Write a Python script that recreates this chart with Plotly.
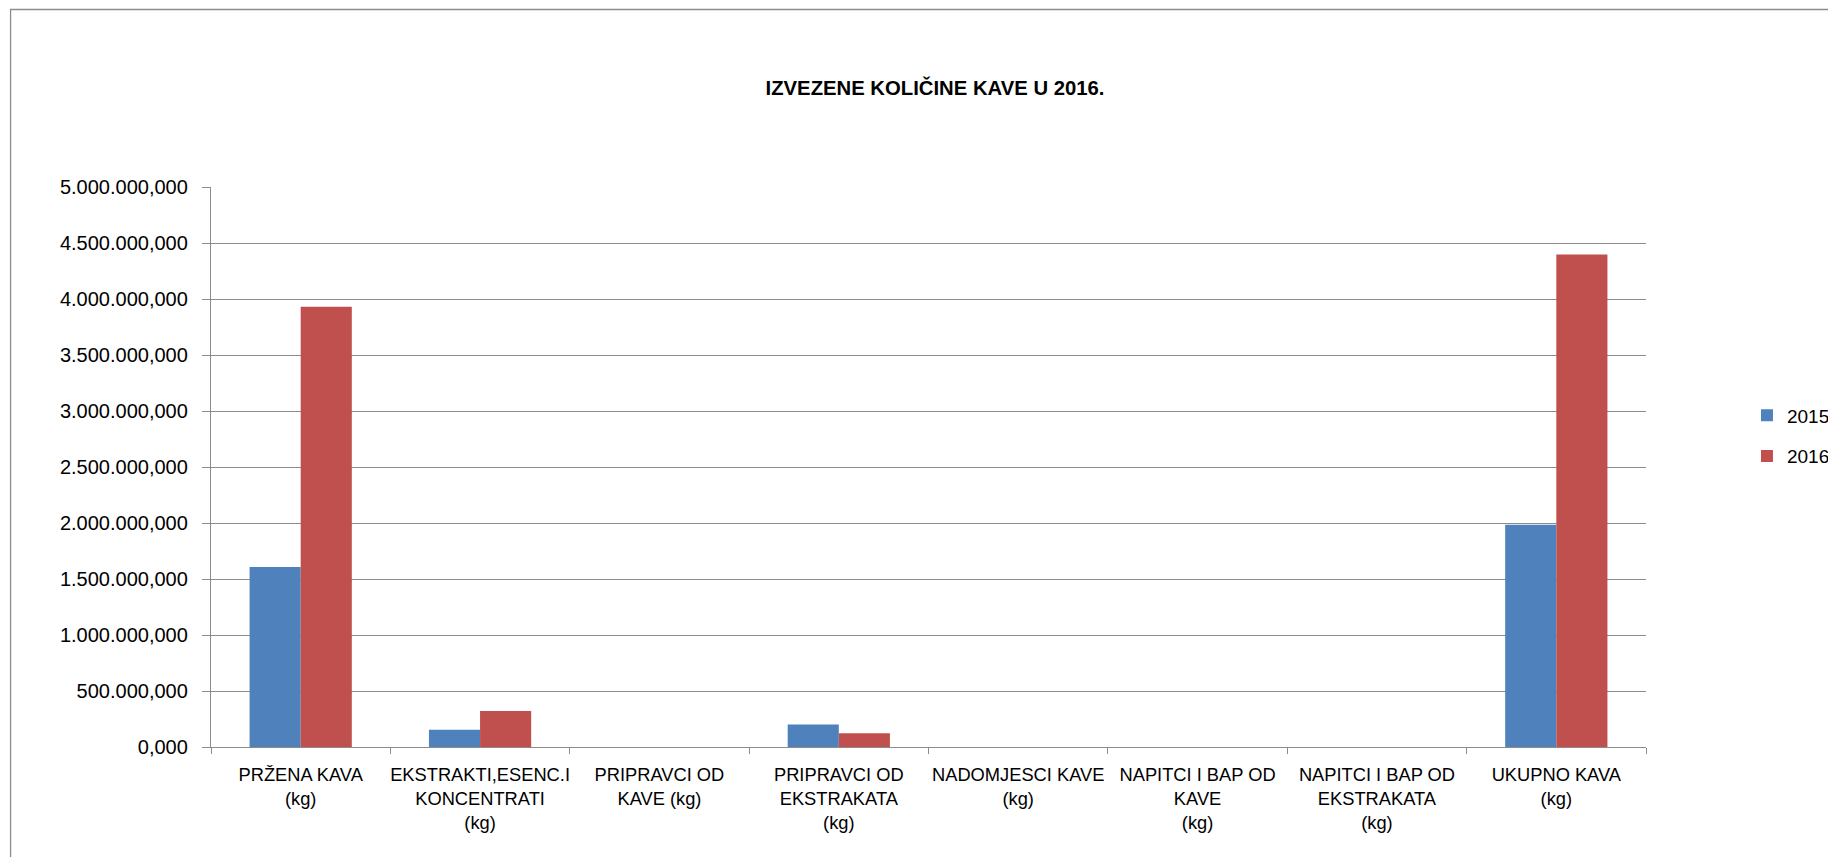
import plotly.graph_objects as go

# ---- data ----
categories = [
    "PRŽENA KAVA (kg)",
    "EKSTRAKTI,ESENC.I KONCENTRATI (kg)",
    "PRIPRAVCI OD KAVE (kg)",
    "PRIPRAVCI OD EKSTRAKATA (kg)",
    "NADOMJESCI KAVE (kg)",
    "NAPITCI I BAP OD KAVE (kg)",
    "NAPITCI I BAP OD EKSTRAKATA (kg)",
    "UKUPNO KAVA (kg)",
]
tick_labels = [
    "PRŽENA KAVA<br>(kg)",
    "EKSTRAKTI,ESENC.I<br>KONCENTRATI<br>(kg)",
    "PRIPRAVCI OD<br>KAVE (kg)",
    "PRIPRAVCI OD<br>EKSTRAKATA<br>(kg)",
    "NADOMJESCI KAVE<br>(kg)",
    "NAPITCI I BAP OD<br>KAVE<br>(kg)",
    "NAPITCI I BAP OD<br>EKSTRAKATA<br>(kg)",
    "UKUPNO KAVA<br>(kg)",
]
values_2015 = [1608000, 155000, 0, 200000, 0, 0, 0, 1985000]
values_2016 = [3931000, 322000, 0, 122000, 0, 0, 0, 4397000]
y_ticks = [0, 500000, 1000000, 1500000, 2000000, 2500000, 3000000, 3500000, 4000000, 4500000, 5000000]

title_text = "IZVEZENE KOLIČINE KAVE U 2016."

# ---- layout geometry (pixels, page coords; page body has an 8px margin) ----
OFF = 8
W, H = 1836 - OFF, 857 - OFF
L, R = 210.5 - OFF, 1646.0 - OFF
T, B = 187.3 - OFF, 746.7 - OFF
pw, ph = R - L, B - T

def px_x(px):
    return (px - OFF - L) / pw

def px_y(py):
    return (B - (py - OFF)) / ph

FONT = "Liberation Sans, Arial, sans-serif"
GRID = "#8C8C8C"

fig = go.Figure()
fig.add_trace(go.Bar(name="2015", x=categories, y=values_2015,
                     marker=dict(color="#4F81BD", line=dict(width=0)),
                     legendgroup="a"))
fig.add_trace(go.Bar(name="2016", x=categories, y=values_2016,
                     marker=dict(color="#C0504D", line=dict(width=0)),
                     legendgroup="b"))

fig.update_layout(
    width=W, height=H,
    margin=dict(l=L, r=W - R, t=T, b=H - B, autoexpand=False),
    paper_bgcolor="white", plot_bgcolor="white",
    separators=",.",
    barmode="group", bargap=0.43, bargroupgap=0,
    font=dict(family=FONT, color="black"),
    title=dict(text="<b>" + title_text + "</b>", x=(935 - OFF) / W, y=1 - (88 - OFF) / H,
               xanchor="center", yanchor="middle",
               font=dict(family=FONT, size=20.3, color="black")),
    legend=dict(x=px_x(1747), y=px_y(396.5), xanchor="left", yanchor="top",
                traceorder="grouped", tracegroupgap=13,
                font=dict(family=FONT, size=19, color="black"),
                bgcolor="rgba(0,0,0,0)", borderwidth=0),
    xaxis=dict(
        type="category", tickmode="array", tickvals=categories, ticktext=tick_labels,
        tickangle=0,
        tickson="boundaries", ticks="outside", ticklen=6, tickcolor=GRID, tickwidth=1,
        showline=True, linecolor=GRID, linewidth=1.3, showgrid=False,
        tickfont=dict(family=FONT, size=18.3, color="black"),
        ticklabelstandoff=11,
    ),
    yaxis=dict(
        range=[0, 5000000], tickmode="array", tickvals=y_ticks, tickformat=",.3f",
        ticks="outside", ticklen=8, tickcolor=GRID, tickwidth=1,
        showline=True, linecolor=GRID, linewidth=1.3,
        showgrid=True, gridcolor=GRID, gridwidth=1.3, zeroline=False,
        tickfont=dict(family=FONT, size=20, color="black"),
        ticklabelstandoff=10,
    ),
    shapes=[dict(type="rect", xref="paper", yref="paper",
                 x0=px_x(10), x1=px_x(1836 + 20), y0=px_y(857 + 20), y1=px_y(10),
                 line=dict(color="#8C8C8C", width=1.3), fillcolor="rgba(0,0,0,0)",
                 layer="below")],
    showlegend=True,
)

fig.write_html("out.html")
